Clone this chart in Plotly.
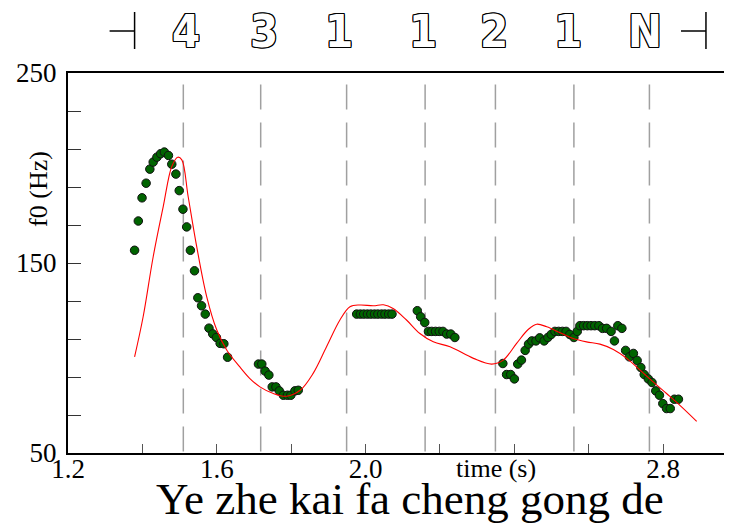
import plotly.graph_objects as go

# measured f0 samples (s, Hz)
f0_time = [1.379, 1.389, 1.399, 1.410, 1.420, 1.429, 1.439, 1.449, 1.459, 1.470,
           1.479, 1.490, 1.499, 1.509, 1.519, 1.529, 1.540, 1.549, 1.559, 1.569,
           1.579, 1.589, 1.599, 1.609, 1.619, 1.629,
           1.712, 1.721, 1.730, 1.740, 1.749, 1.759, 1.768, 1.779, 1.790, 1.799,
           1.810, 1.819,
           1.976, 1.986, 1.995, 2.005, 2.014, 2.024, 2.033, 2.043, 2.052, 2.062,
           2.071,
           2.139, 2.148, 2.159, 2.169, 2.178, 2.188, 2.198, 2.208, 2.218, 2.229,
           2.240,
           2.369, 2.379, 2.390, 2.400, 2.409, 2.419, 2.429, 2.438, 2.447, 2.458,
           2.468, 2.480, 2.490, 2.499, 2.509, 2.519, 2.529, 2.539, 2.549, 2.560,
           2.569, 2.576, 2.586, 2.596, 2.606, 2.616, 2.627, 2.637, 2.648, 2.660,
           2.669, 2.678, 2.689, 2.699, 2.709, 2.720, 2.730, 2.740, 2.749, 2.760,
           2.770, 2.780, 2.790, 2.799, 2.809, 2.819, 2.830, 2.841]
f0_hz = [156.7, 172.1, 184.3, 192.0, 199.4, 203.1, 205.7, 207.5, 208.4, 206.6,
         202.0, 196.8, 188.1, 178.3, 169.0, 156.7, 145.9, 131.7, 127.5, 123.1,
         115.7, 112.7, 110.8, 107.7, 107.5, 100.4,
         96.8, 96.8, 93.1, 91.0, 84.8, 84.8, 82.7, 80.4, 80.4, 80.4,
         82.7, 83.0,
         123.1, 123.1, 123.1, 123.1, 123.1, 123.1, 123.1, 123.1, 123.1, 123.1,
         123.1,
         124.9, 121.7, 118.7, 114.0, 114.0, 114.0, 114.0, 114.0, 112.6, 112.6,
         110.8,
         97.1, 91.3, 91.3, 89.0, 96.8, 98.9, 104.0, 107.3, 109.0, 109.0,
         110.6, 109.0, 110.8, 112.4, 114.0, 114.0, 114.0, 114.0, 112.4, 110.8,
         114.0, 117.0, 117.0, 117.0, 117.0, 117.0, 117.0, 115.6, 115.6, 114.0,
         109.0, 117.0, 115.6, 104.0, 100.6, 102.4, 98.7, 95.0, 91.3, 89.0,
         87.1, 82.7, 80.4, 76.0, 73.4, 73.4, 78.3, 78.3]

# fitted contour
contour_time = [1.379, 1.402, 1.429, 1.456, 1.479, 1.495, 1.506, 1.523, 1.546, 1.573,
                1.600, 1.627, 1.662, 1.689, 1.716, 1.752, 1.788, 1.824, 1.859, 1.895,
                1.931, 1.958, 1.985, 2.021, 2.048, 2.074, 2.110, 2.146, 2.182, 2.227,
                2.290, 2.339, 2.370, 2.406, 2.437, 2.460, 2.487, 2.523, 2.558, 2.594,
                2.630, 2.666, 2.702, 2.738, 2.773, 2.809, 2.845, 2.890]
contour_hz = [100.6, 121.7, 153.3, 179.7, 200.8, 205.7, 204.3, 185.0, 158.6, 132.2,
              114.7, 104.1, 95.3, 89.2, 84.8, 81.3, 79.9, 83.0, 91.9, 105.9,
              120.0, 127.0, 127.9, 127.5, 128.0, 126.1, 120.0, 112.9, 108.5, 105.9,
              99.8, 96.8, 98.9, 107.7, 115.0, 117.8, 116.4, 113.3, 110.3, 108.5,
              107.3, 104.5, 99.8, 93.6, 87.4, 81.3, 75.1, 66.7]

boundaries = [1.510, 1.718, 1.949, 2.160, 2.349, 2.560, 2.763]
tone_labels = ["4", "3", "1", "1", "2", "1", "N"]
tone_time = [1.517, 1.727, 1.928, 2.154, 2.345, 2.544, 2.751]
utterance_edges = [1.379, 2.915]

x_ticks = [1.2, 1.6, 2.0, 2.8]
y_ticks = [50, 150, 250]

serif = "Liberation Serif, Times New Roman, serif"
outline = ("1px 0 0 #000, -1px 0 0 #000, 0 1px 0 #000, 0 -1px 0 #000, "
           "1px 1px 0 #000, -1px -1px 0 #000, 1px -1px 0 #000, -1px 1px 0 #000")

fig = go.Figure()

fig.add_trace(go.Scatter(x=f0_time, y=f0_hz, mode="markers",
                         marker=dict(size=8.5, color="#006400",
                                     line=dict(color="#111", width=1)),
                         showlegend=False))
fig.add_trace(go.Scatter(x=contour_time, y=contour_hz, mode="lines",
                         line=dict(color="red", width=1.1, shape="spline", smoothing=1),
                         showlegend=False))

shapes = []
for b in boundaries:
    shapes.append(dict(type="line", xref="x", yref="y", x0=b, x1=b, y0=244, y1=50,
                       line=dict(color="#a0a0a0", width=1.5, dash="25px,13px"),
                       layer="below"))
# utterance edge markers above the plot
for e in utterance_edges:
    shapes.append(dict(type="line", xref="x", yref="paper", xsizemode="pixel",
                       ysizemode="pixel", xanchor=e, yanchor=1,
                       x0=0, x1=0, y0=24, y1=61, line=dict(color="black", width=1.5)))
    shapes.append(dict(type="line", xref="x", yref="paper", xsizemode="pixel",
                       ysizemode="pixel", xanchor=e, yanchor=1,
                       x0=-25, x1=0, y0=42, y1=42, line=dict(color="black", width=1.5)))

annotations = []
for t, lab in zip(tone_time, tone_labels):
    annotations.append(dict(x=t, xref="x", y=1, yref="paper", yshift=42,
                            yanchor="middle", text="<b>" + lab + "</b>", showarrow=False,
                            font=dict(family="Liberation Sans Narrow, DejaVu Sans Condensed, sans-serif",
                                      size=45, color="white", shadow=outline)))
annotations.append(dict(x=0, xref="paper", xanchor="center", xshift=-29, y=189, yref="y",
                        text="f0 (Hz)", textangle=-90, showarrow=False,
                        font=dict(family=serif, size=26, color="black")))
annotations.append(dict(x=2.35, xref="x", y=0, yref="paper", yshift=-15,
                        yanchor="middle", text="time (s)", showarrow=False,
                        font=dict(family=serif, size=26, color="black")))
annotations.append(dict(x=0.515, xref="paper", xanchor="center", y=0, yref="paper",
                        yshift=-46, yanchor="middle", text="Ye zhe kai fa cheng gong de",
                        showarrow=False, font=dict(family=serif, size=45, color="black")))

tick_font = dict(family=serif, size=27, color="black")

# the page body adds an 8px offset, so the figure is shrunk/shifted by that much
fig.update_layout(
    width=724, height=517,
    margin=dict(l=60, r=0, t=65, b=72, autoexpand=False),
    paper_bgcolor="white", plot_bgcolor="white",
    font=dict(family=serif, size=26, color="black"),
    shapes=shapes, annotations=annotations,
    xaxis=dict(range=[1.2, 2.985], tickvals=x_ticks, ticktext=["1.2", "1.6", "2.0", "2.8"],
               tickfont=tick_font, automargin=False, ticklabelstandoff=-9,
               ticks="inside", ticklen=9, tickcolor="#555", tickwidth=1.2,
               minor=dict(dtick=0.2, tick0=1.2, ticks="inside", ticklen=9,
                          tickcolor="#555", tickwidth=1.2),
               showline=True, linecolor="black", linewidth=2, mirror=True,
               showgrid=False, zeroline=False),
    yaxis=dict(range=[50, 250], tickvals=y_ticks, tickfont=tick_font, automargin=False,
               ticklabelstandoff=4,
               ticks="inside", ticklen=13, tickcolor="#333", tickwidth=1.2,
               minor=dict(dtick=20, tick0=50, ticks="inside", ticklen=13,
                          tickcolor="#333", tickwidth=1.2),
               showline=True, linecolor="black", linewidth=2,
               showgrid=False, zeroline=False),
)

fig.write_html("out.html")
